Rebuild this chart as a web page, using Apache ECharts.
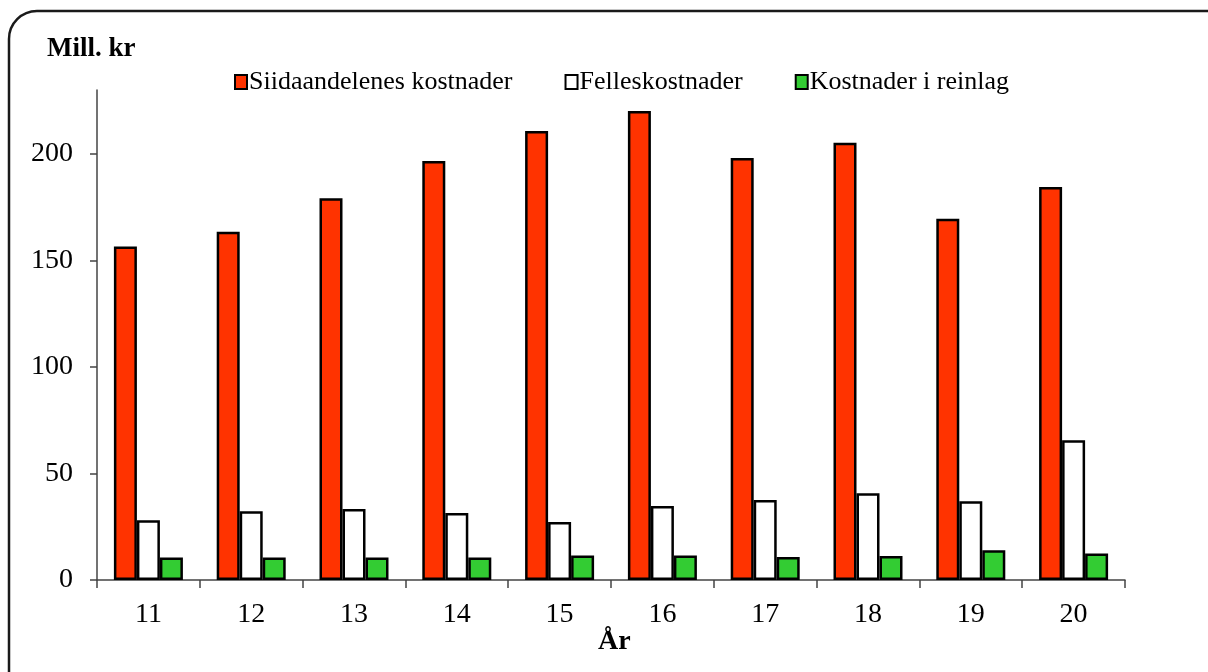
<!DOCTYPE html>
<html>
<head>
<meta charset="utf-8">
<script src="https://cdn.jsdelivr.net/npm/echarts@6/dist/echarts.min.js"></script>
<style>html,body{margin:0;padding:0;background:#fff}#c{width:1208px;height:672px}</style>
</head>
<body>
<div id="c"></div>
<script>
const categories = ['11','12','13','14','15','16','17','18','19','20'];
const siidaandeler = [156.5, 163.5, 179.2, 196.7, 210.8, 220.1, 198.1, 205.2, 169.6, 184.5];
const felles = [28.1, 32.3, 33.3, 31.4, 27.2, 34.7, 37.5, 40.7, 37.0, 65.6];
const reinlag = [10.6, 10.6, 10.6, 10.6, 11.5, 11.5, 10.8, 11.3, 14.0, 12.4];
const yTicks = [0, 50, 100, 150, 200];
const seriesNames = ['Siidaandelenes kostnader', 'Felleskostnader', 'Kostnader i reinlag'];

const chart = echarts.init(document.getElementById('c'), null, {renderer: 'canvas'});
const font = 'Liberation Serif';
function bar(name, data, color) {
  return {
    name: name, type: 'bar', data: data, barWidth: 23, barGap: '0%',
    itemStyle: {color: color, borderColor: '#000', borderWidth: 2.5},
    emphasis: {disabled: true}
  };
}
chart.setOption({
  animation: false,
  textStyle: {fontFamily: font},
  graphic: [
    {type: 'rect', shape: {x: 9, y: 11, width: 1230, height: 700, r: 28},
     style: {fill: 'none', stroke: '#1a1a1a', lineWidth: 2.5}, silent: true},
    {type: 'text', left: 47, top: 36,
     style: {text: 'Mill. kr', font: 'bold 27px "Liberation Serif"', fill: '#000'}},
    {type: 'text', left: 598, top: 628,
     style: {text: 'År', font: 'bold 28px "Liberation Serif"', fill: '#000'}}
  ],
  legend: {
    top: 64, left: 229, itemGap: 52, itemWidth: 12, itemHeight: 14,
    icon: 'rect',
    textStyle: {fontFamily: font, fontSize: 26, color: '#000', padding: [0, 0, 0, -3]},
    data: seriesNames.map(n => ({name: n, itemStyle: {borderColor: '#000', borderWidth: 2}}))
  },
  grid: {left: 97, right: 83, top: 90, bottom: 92},
  xAxis: {
    type: 'category', data: categories,
    axisLine: {lineStyle: {color: '#444', width: 1.5}},
    axisTick: {show: true, length: 8, lineStyle: {color: '#444', width: 1.5}},
    axisLabel: {color: '#000', fontSize: 28, fontFamily: font, margin: 21}
  },
  yAxis: {
    type: 'value', min: 0, max: 230, interval: 50,
    splitLine: {show: false},
    axisLine: {show: true, lineStyle: {color: '#444', width: 1.5}},
    axisTick: {show: true, length: 7, lineStyle: {color: '#444', width: 1.5}, customValues: yTicks},
    axisLabel: {color: '#000', fontSize: 28, fontFamily: font, margin: 24, customValues: yTicks}
  },
  series: [
    bar(seriesNames[0], siidaandeler, '#ff3300'),
    bar(seriesNames[1], felles, '#ffffff'),
    bar(seriesNames[2], reinlag, '#33cc33')
  ]
});
</script>
</body>
</html>
